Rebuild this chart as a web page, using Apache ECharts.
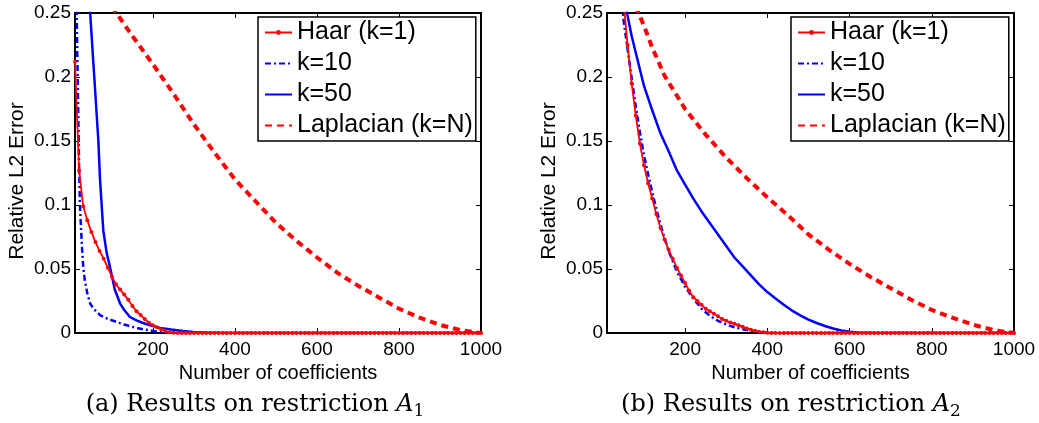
<!DOCTYPE html>
<html>
<head>
<meta charset="utf-8">
<script src="https://cdn.jsdelivr.net/npm/echarts@6/dist/echarts.min.js"></script>
<style>
html,body{margin:0;padding:0;background:#fff;}
#c{width:1039px;height:423px;}
</style>
</head>
<body>
<div id="c"></div>
<script>
// ---------- data ----------
const seriesNames = ['Haar (k=1)', 'k=10', 'k=50', 'Laplacian (k=N)'];
const xTickValues = [200, 400, 600, 800, 1000];
const yTickLabels = ['0', '0.05', '0.1', '0.15', '0.2', '0.25'];
const xTitle = 'Number of coefficients';
const yTitle = 'Relative L2 Error';
const captionA = ['(a) Results on restriction ', 'A', '1'];
const captionB = ['(b) Results on restriction ', 'A', '2'];

// Haar is sampled every 10 coefficients
const coefX = [10,20,30,40,50,60,70,80,90,100,110,120,130,140,150,160,170,180,190,200,
  210,220,230,240,250,260,270,280,290,300,310,320,330,340,350,360,370,380,390,400,
  410,420,430,440,450,460,470,480,490,500,510,520,530,540,550,560,570,580,590,600,
  610,620,630,640,650,660,670,680,690,700,710,720,730,740,750,760,770,780,790,800,
  810,820,830,840,850,860,870,880,890,900,910,920,930,940,950,960,970,980,990,1000];

// ---- restriction A1 ----
const a1Haar = [0.212,0.127,0.099,0.088,0.079,0.071,0.064,0.058,0.051,0.044,
  0.038,0.034,0.030,0.026,0.021,0.017,0.014,0.011,0.008,0.006,
  0.0045,0.003,0.0015,0.0006,0.0002,0,0,0,0,0,
  0,0,0,0,0,0,0,0,0,0, 0,0,0,0,0,0,0,0,0,0, 0,0,0,0,0,0,0,0,0,0,
  0,0,0,0,0,0,0,0,0,0, 0,0,0,0,0,0,0,0,0,0, 0,0,0,0,0,0,0,0,0,0, 0,0,0,0,0,0,0,0,0,0];
const a1K10X = [10,14,17,20,22,25,27,30,34,40,47,55,71,90,112,130,151,175,200,230,260,300,1000];
const a1K10Y = [0.45,0.25,0.19,0.13,0.1,0.08,0.067,0.052,0.041,0.031,0.023,0.019,0.014,0.011,0.0086,0.0066,0.0047,0.003,0.0016,0.0005,0.0001,0,0];
const a1K50X = [40,47,57,67,71,75,79,87,95,107,120,130,144,160,176,195,217,245,273,300,330,370,1000];
const a1K50Y = [0.30,0.25,0.2,0.15,0.12,0.10,0.08,0.063,0.052,0.034,0.023,0.018,0.0125,0.0098,0.0078,0.0058,0.004,0.0027,0.0016,0.0008,0.0003,0,0];
const a1LapX = [100,150,200,250,300,350,400,450,500,550,600,650,700,750,800,850,900,950,1000];
const a1LapY = [0.255,0.232,0.210,0.187,0.163,0.141,0.120,0.103,0.086,0.072,0.059,0.047,0.037,0.028,0.019,0.012,0.0063,0.0022,0];

// ---- restriction A2 ----
const a2Haar = [null,null,null,0.31,0.26,0.225,0.195,0.170,0.148,0.131,
  0.117,0.105,0.093,0.082,0.073,0.065,0.058,0.051,0.045,0.039,
  0.033,0.028,0.025,0.022,0.019,0.017,0.015,0.013,0.011,0.0095,
  0.0083,0.0072,0.006,0.0048,0.0036,0.0026,0.0017,0.001,0.0005,0.0002,
  0,0,0,0,0,0,0,0,0,0, 0,0,0,0,0,0,0,0,0,0, 0,0,0,0,0,0,0,0,0,0,
  0,0,0,0,0,0,0,0,0,0, 0,0,0,0,0,0,0,0,0,0, 0,0,0,0,0,0,0,0,0,0];
const a2K10X = [40,50,60,70,80,90,100,110,120,130,140,150,160,170,180,190,200,220,240,260,280,300,320,340,360,380,400,420,1000];
const a2K10Y = [0.30,0.245,0.222,0.199,0.177,0.157,0.139,0.124,0.110,0.097,0.085,0.074,0.064,0.056,0.048,0.042,0.036,0.027,0.019,0.0135,0.0095,0.0066,0.0045,0.003,0.0018,0.0008,0.0002,0,0];
const a2K50X = [50,60,70,80,100,120,140,160,180,200,220,240,260,280,300,320,340,360,380,400,420,440,460,480,500,520,540,560,580,600,620,650,1000];
const a2K50Y = [0.265,0.248,0.232,0.219,0.193,0.174,0.156,0.142,0.127,0.116,0.105,0.095,0.086,0.077,0.068,0.059,0.052,0.045,0.038,0.032,0.027,0.022,0.0175,0.0138,0.0105,0.0078,0.0055,0.0035,0.002,0.0009,0.0003,0,0];
const a2LapX = [80,100,120,150,200,250,300,350,400,450,500,550,600,650,700,750,800,850,900,950,1000];
const a2LapY = [0.255,0.240,0.223,0.201,0.175,0.155,0.137,0.121,0.106,0.092,0.077,0.065,0.054,0.044,0.035,0.026,0.018,0.012,0.0065,0.0023,0];

// ---------- chart ----------
const FONT = 'Liberation Sans';
const RED = '#ff0000', BLUE = '#0000ff';
const zip = (xs, ys) => xs.map((x, i) => [x, ys[i]]);

const grids = [
  {left: 75, top: 13, width: 406, height: 320},
  {left: 607, top: 13, width: 407, height: 320}
];

function xAxes(g) {
  const base = {
    type: 'value', gridIndex: g, min: 10, max: 1000,
    axisLine: {show: true, onZero: false, lineStyle: {color: '#000', width: 2}},
    axisTick: {show: true, inside: true, length: 5, customValues: xTickValues, lineStyle: {color: '#000', width: 1}},
    splitLine: {show: false}
  };
  return [
    Object.assign({}, base, {
      position: 'bottom',
      axisLabel: {show: true, customValues: xTickValues, margin: 7, fontSize: 19, fontFamily: FONT, color: '#000',
        formatter: (v) => String(v)},
      name: xTitle, nameLocation: 'middle', nameGap: 22,
      nameTextStyle: {fontSize: 20, fontFamily: FONT, color: '#000'}
    }),
    Object.assign({}, base, {position: 'top', axisLabel: {show: false}})
  ];
}
function yAxes(g) {
  const base = {
    type: 'value', gridIndex: g, min: 0, max: 0.25, interval: 0.05,
    axisLine: {show: true, onZero: false, lineStyle: {color: '#000', width: 2}},
    axisTick: {show: true, inside: true, length: 5, lineStyle: {color: '#000', width: 1}},
    splitLine: {show: false}
  };
  return [
    Object.assign({}, base, {
      position: 'left',
      axisLabel: {show: true, margin: 4, fontSize: 19, fontFamily: FONT, color: '#000',
        formatter: (v) => yTickLabels[Math.round(v / 0.05)]},
      name: yTitle, nameLocation: 'middle', nameGap: 47,
      nameTextStyle: {fontSize: 21, fontFamily: FONT, color: '#000', padding: [0, 16, 0, 0]}
    }),
    Object.assign({}, base, {position: 'right', axisLabel: {show: false}})
  ];
}

function seriesFor(g, haarY, k10, k50, lap) {
  const xi = g * 2, yi = g * 2;
  return [
    {name: seriesNames[0], type: 'line', xAxisIndex: xi, yAxisIndex: yi, data: zip(coefX, haarY),
     symbol: 'circle', symbolSize: 4, showAllSymbol: true, connectNulls: false,
     lineStyle: {color: RED, width: 1.8}, itemStyle: {color: RED}, z: 4, animation: false},
    {name: seriesNames[1], type: 'line', xAxisIndex: xi, yAxisIndex: yi, data: k10,
     symbol: 'none',
     lineStyle: {color: BLUE, width: 2.5, type: [6, 3, 2, 3]}, itemStyle: {color: BLUE}, z: 3, animation: false},
    {name: seriesNames[2], type: 'line', xAxisIndex: xi, yAxisIndex: yi, data: k50,
     symbol: 'none',
     lineStyle: {color: BLUE, width: 2.5}, itemStyle: {color: BLUE}, z: 3, animation: false},
    {name: seriesNames[3], type: 'line', xAxisIndex: xi, yAxisIndex: yi, data: lap,
     symbol: 'none',
     lineStyle: {color: RED, width: 4, type: [7, 5]}, itemStyle: {color: RED}, z: 2, animation: false}
  ];
}

function legendAt(left) {
  return {
    left: left, top: 17, orient: 'vertical', selectedMode: false,
    itemWidth: 27, itemHeight: 6, itemGap: 6,
    padding: [3, 3, 3, 6],
    borderColor: '#000', borderWidth: 1.5, backgroundColor: '#fff',
    textStyle: {fontSize: 25, fontFamily: FONT, color: '#000', lineHeight: 25},
    data: [
      {name: seriesNames[0]},
      {name: seriesNames[1], itemStyle: {opacity: 0}},
      {name: seriesNames[2], itemStyle: {opacity: 0}},
      {name: seriesNames[3], itemStyle: {opacity: 0}}
    ]
  };
}

function caption(x, parts) {
  return {
    type: 'text', x: x, y: 405,
    style: {
      text: '{r|' + parts[0] + '}{i|' + parts[1] + '}{s|' + parts[2] + '}',
      align: 'center', verticalAlign: 'middle',
      rich: {
        r: {fontFamily: 'DejaVu Serif', fontSize: 24, fill: '#000', lineHeight: 30},
        i: {fontFamily: 'DejaVu Serif', fontStyle: 'italic', fontSize: 24, fill: '#000', lineHeight: 30},
        s: {fontFamily: 'DejaVu Serif', fontSize: 17, fill: '#000', verticalAlign: 'bottom', lineHeight: 22}
      }
    }
  };
}

const chart = echarts.init(document.getElementById('c'), null, {renderer: 'canvas'});
chart.setOption({
  animation: false,
  backgroundColor: '#fff',
  grid: grids,
  xAxis: xAxes(0).concat(xAxes(1)),
  yAxis: yAxes(0).concat(yAxes(1)),
  legend: [legendAt(258), legendAt(791)],
  series: [].concat(
    seriesFor(0, a1Haar, zip(a1K10X, a1K10Y), zip(a1K50X, a1K50Y), zip(a1LapX, a1LapY)),
    seriesFor(1, a2Haar, zip(a2K10X, a2K10Y), zip(a2K50X, a2K50Y), zip(a2LapX, a2LapY))
  ),
  graphic: [caption(255, captionA), caption(791, captionB)]
});
</script>
</body>
</html>
